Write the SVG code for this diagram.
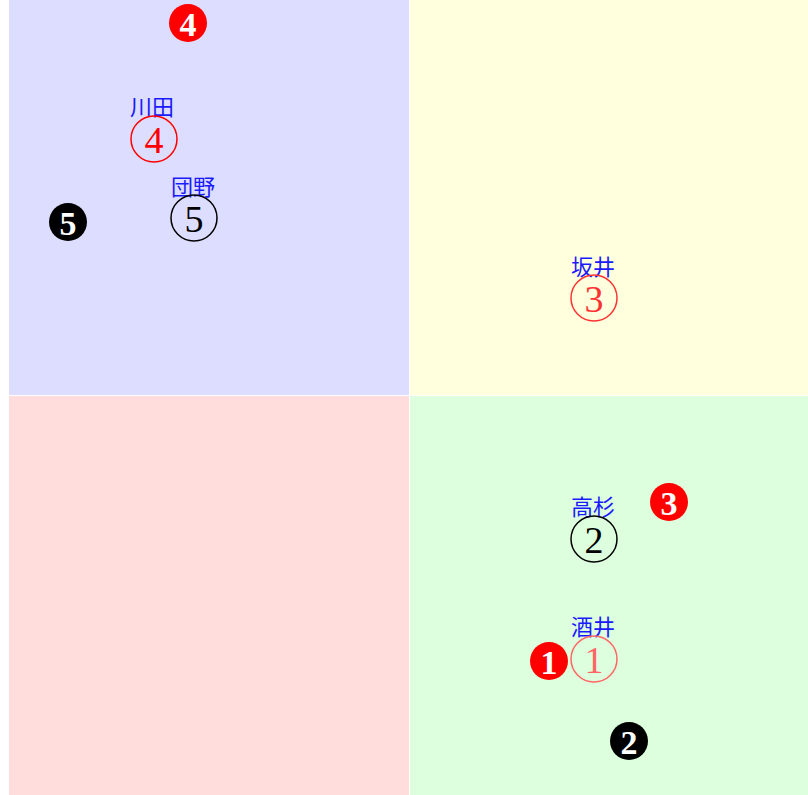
<svg xmlns="http://www.w3.org/2000/svg" width="808" height="795" viewBox="0 0 808 795">
<style>
.lbl{font-family:"Noto Sans CJK JP","Noto Sans CJK SC",sans-serif;font-size:22px;fill:#1a1aff;text-anchor:middle;dominant-baseline:central}
.ring{fill:none;stroke-width:1.5}
.num{font-family:"Liberation Serif","DejaVu Serif",serif;font-size:38px;text-anchor:middle;dominant-baseline:central}
.dot{stroke:none}
.dnum{font-family:"Liberation Serif","DejaVu Serif",serif;font-size:34px;font-weight:bold;fill:#fff;text-anchor:middle;dominant-baseline:central}
</style>
<g id="quadrants">
<rect x="9" y="0" width="400" height="395" fill="#ddddff"/>
<rect x="410" y="0" width="398" height="395" fill="#ffffdd"/>
<rect x="9" y="396" width="400" height="399" fill="#ffdddd"/>
<rect x="410" y="396" width="398" height="399" fill="#ddffdd"/>
</g>
<g id="connectors"></g>
<g id="node-kawada">
<text class="lbl" x="152" y="105">川田</text>
<circle class="ring" cx="154" cy="139" r="23" stroke="#ff0000"/>
<text class="num" x="154" y="140" fill="#ff0000">4</text>
</g>
<g id="node-danno">
<text class="lbl" x="193" y="185">団野</text>
<circle class="ring" cx="194" cy="218" r="23" stroke="#000"/>
<text class="num" x="194" y="219" fill="#000">5</text>
</g>
<g id="node-sakai3">
<text class="lbl" x="593" y="265">坂井</text>
<circle class="ring" cx="594" cy="298" r="23" stroke="#ff3333"/>
<text class="num" x="594" y="299" fill="#ff3333">3</text>
</g>
<g id="node-takasugi">
<text class="lbl" x="593" y="505">高杉</text>
<circle class="ring" cx="594" cy="539" r="23" stroke="#000"/>
<text class="num" x="594" y="540" fill="#000">2</text>
</g>
<g id="node-sakai1">
<text class="lbl" x="593" y="625">酒井</text>
<circle class="ring" cx="594" cy="659" r="23" stroke="#ff6666"/>
<text class="num" x="594" y="660" fill="#ff6666">1</text>
</g>
<g id="mark-4">
<circle class="dot" cx="188" cy="23" r="19" fill="#ff0000"/>
<text class="dnum" x="188" y="24">4</text>
</g>
<g id="mark-5">
<circle class="dot" cx="68" cy="222" r="19" fill="#000"/>
<text class="dnum" x="68" y="223">5</text>
</g>
<g id="mark-3">
<circle class="dot" cx="669" cy="502" r="19" fill="#ff0000"/>
<text class="dnum" x="669" y="503">3</text>
</g>
<g id="mark-1">
<circle class="dot" cx="549" cy="661" r="19" fill="#ff0000"/>
<text class="dnum" x="549" y="662">1</text>
</g>
<g id="mark-2">
<circle class="dot" cx="629" cy="741" r="19" fill="#000"/>
<text class="dnum" x="629" y="742">2</text>
</g>
</svg>
